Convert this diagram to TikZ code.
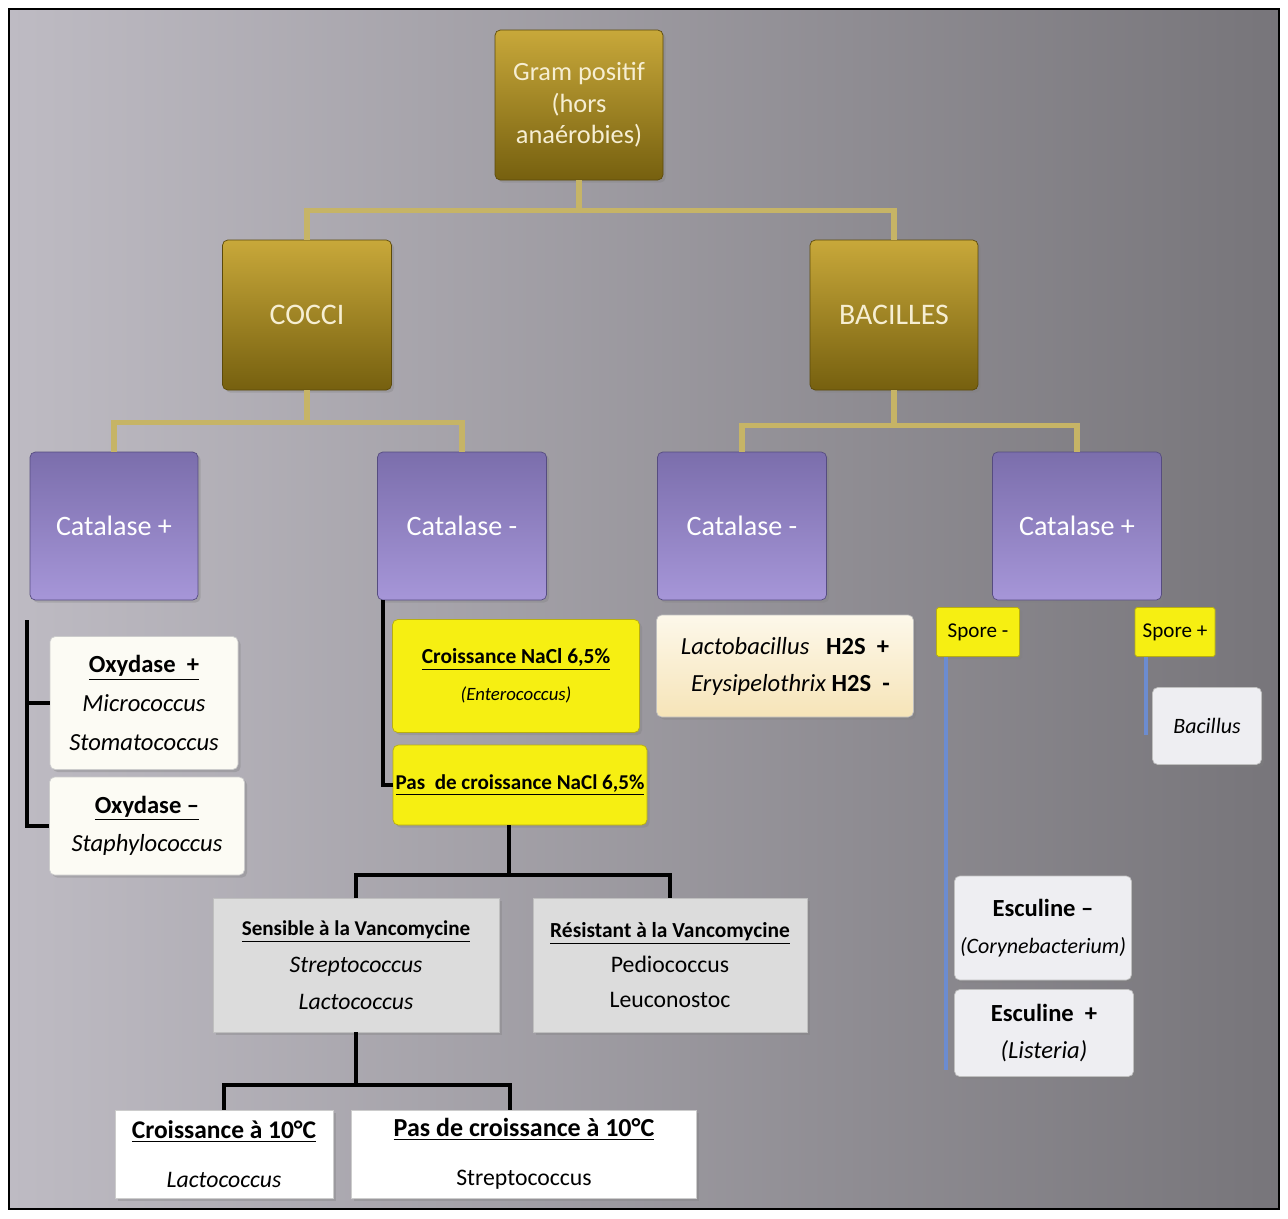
\documentclass[tikz,border=0pt]{standalone}
\usepackage{fontspec}
\setmainfont{Carlito}
\usetikzlibrary{shadows}
\definecolor{GoldTop}{HTML}{C8A83A}
\definecolor{GoldBot}{HTML}{76600F}
\definecolor{GoldEdge}{HTML}{5C4A0A}
\definecolor{GoldLine}{HTML}{C6B466}
\definecolor{GoldText}{HTML}{F6EED2}
\definecolor{LilacTop}{HTML}{7B6EAC}
\definecolor{LilacBot}{HTML}{A696D8}
\definecolor{LilacEdge}{HTML}{564C80}
\definecolor{SunYellow}{HTML}{F6EF12}
\definecolor{SunEdge}{HTML}{B8AE10}
\definecolor{Cream}{HTML}{FCFBF4}
\definecolor{CreamTop}{HTML}{FDF8EA}
\definecolor{CreamBot}{HTML}{F6E4B8}
\definecolor{PaleGrey}{HTML}{DCDCDC}
\definecolor{IceGrey}{HTML}{EEEEF2}
\definecolor{SkyLine}{HTML}{6C8CD0}
\definecolor{BackLeft}{HTML}{BEBBC3}
\definecolor{BackRight}{HTML}{77757A}
\tikzset{
  sized/.style 2 args={
    minimum width=#1*0.02cm,
    minimum height=#2*0.02cm,
  },
  box/.style={
    rounded corners=3pt,
    inner sep=1pt,
    align=center,
    drop shadow={opacity=0.35, shadow xshift=1.5pt, shadow yshift=-1.5pt},
  },
  gold box/.style={
    box,
    draw=GoldEdge,
    top color=GoldTop,
    bottom color=GoldBot,
    text=GoldText,
  },
  lilac box/.style={
    box,
    draw=LilacEdge,
    top color=LilacTop,
    bottom color=LilacBot,
    text=white,
    font=\fontsize{16}{19}\selectfont,
  },
  white box/.style={
    box,
    draw=white!80!black,
    fill=Cream,
  },
  sun box/.style={
    box,
    draw=SunEdge,
    fill=SunYellow,
  },
  grey box/.style={
    box,
    rounded corners=0pt,
    draw=white!75!black,
    fill=PaleGrey,
  },
  ice box/.style={
    box,
    draw=white!75!black,
    fill=IceGrey,
  },
  cream box/.style={
    box,
    draw=white!75!black,
    top color=CreamTop,
    bottom color=CreamBot,
  },
  gold link/.style={
    draw=GoldLine,
    line width=3pt,
  },
  black link/.style={
    draw=black,
    line width=2.2pt,
  },
  sky link/.style={
    draw=SkyLine,
    line width=2.2pt,
  },
}
\newcommand{\hd}[1]{\underline{\textbf{#1}}}

\begin{document}
\begin{tikzpicture}[x=0.02cm, y=-0.02cm]
  \useasboundingbox (0,0) rectangle (1288,1218);
  % background and frame
  \shade[left color=BackLeft, right color=BackRight] (9,9) rectangle (1279,1209);
  \draw[line width=1.4pt] (9,9) rectangle (1279,1209);

  % top levels
  \node[gold box, sized={168}{150}, font=\fontsize{15}{18}\selectfont] (root) at (579,105)
    {Gram positif\\(hors\\anaérobies)};
  \node[gold box, sized={169}{150}, font=\fontsize{17}{20}\selectfont] (cocci) at (307,315) {COCCI};
  \node[gold box, sized={168}{150}, font=\fontsize{17}{20}\selectfont] (bacil) at (894,315) {BACILLES};
  \draw[gold link] (root.south) -- ++(0,30) -| (cocci.north);
  \draw[gold link] (root.south) -- ++(0,30) -| (bacil.north);

  % catalase
  \node[lilac box, sized={168}{148}] (catpc) at (114,526) {Catalase +};
  \node[lilac box, sized={169}{148}] (catmc) at (462,526) {Catalase -};
  \node[lilac box, sized={169}{148}] (catmb) at (742,526) {Catalase -};
  \node[lilac box, sized={169}{148}] (catpb) at (1077,526) {Catalase +};
  \draw[gold link] (cocci.south) -- ++(0,32) -| (catpc.north);
  \draw[gold link] (cocci.south) -- ++(0,32) -| (catmc.north);
  \draw[gold link] (bacil.south) -- ++(0,35) -| (catmb.north);
  \draw[gold link] (bacil.south) -- ++(0,35) -| (catpb.north);

  % cocci catalase +
  \node[white box, sized={188}{133}, font=\fontsize{14}{22}\selectfont] (oxp) at (144,703)
    {\hd{Oxydase\ \ +}\\\textit{Micrococcus}\\\textit{Stomatococcus}};
  \node[white box, sized={195}{98}, font=\fontsize{14}{22}\selectfont] (oxm) at (147,826)
    {\hd{Oxydase –}\\\textit{Staphylococcus}};
  \coordinate (brtop) at (27,620);
  \draw[black link] (brtop) |- (oxm.west);
  \draw[black link] (oxp.west) -- (oxp.west -| brtop);

  % cocci catalase -
  \node[sun box, sized={247}{113}, font=\fontsize{12.2}{21}\selectfont] (nacl) at (516,676)
    {\hd{Croissance NaCl 6,5\%}\\{\fontsize{10.7}{12}\selectfont\textit{(Enterococcus)}}};
  \node[sun box, sized={254}{80}, font=\fontsize{12}{14}\selectfont] (nonacl) at (520,785)
    {\hd{Pas\ \ de croissance NaCl 6,5\%}};
  \draw[black link] ([xshift=6*0.02cm]catmc.south west) |- (nonacl.west);

  \node[grey box, sized={286}{134}, font=\fontsize{13.5}{21}\selectfont] (sens) at (356,965)
    {{\fontsize{12}{14}\selectfont\hd{Sensible à la Vancomycine}}\\\textit{Streptococcus}\\\textit{Lactococcus}};
  \node[grey box, sized={274}{134}, font=\fontsize{13.5}{20}\selectfont] (resi) at (670,965)
    {{\fontsize{12.2}{14}\selectfont\hd{Résistant à la Vancomycine}}\\Pediococcus\\Leuconostoc};
  \coordinate (split1) at (509,875);
  \draw[black link] (nonacl.south -| split1) -- (split1) -| (sens.north);
  \draw[black link] (split1) -| (resi.north);

  \node[white box, rounded corners=0pt, fill=white, sized={218}{88}, font=\fontsize{14.5}{28}\selectfont] (grow) at (224,1154)
    {\hd{Croissance à 10°C}\\{\fontsize{13.5}{16}\selectfont\textit{Lactococcus}}};
  \node[white box, rounded corners=0pt, fill=white, sized={345}{88}, font=\fontsize{14.8}{28}\selectfont] (nogrow) at (524,1154)
    {\hd{Pas de croissance à 10°C}\\{\fontsize{13.5}{16}\selectfont Streptococcus}};
  \coordinate (split2) at (356,1085);
  \draw[black link] (sens.south) -- (split2) -| (grow.north);
  \draw[black link] (split2) -| ([xshift=-14*0.02cm]nogrow.north);

  % bacilles catalase -
  \node[cream box, sized={257}{102}, font=\fontsize{14}{21}\selectfont] (hs) at (785,666)
    {\textit{Lactobacillus}\ \ \ \textbf{H2S}\ \ \textbf{+}\\\ \ \textit{Erysipelothrix} \textbf{H2S}\ \ \textbf{-}};

  % bacilles catalase +
  \node[sun box, rounded corners=1pt, sized={83}{49}, font=\fontsize{12}{14}\selectfont] (spm) at (978,632) {Spore -};
  \node[sun box, rounded corners=1pt, sized={80}{49}, font=\fontsize{12}{14}\selectfont] (spp) at (1175,632) {Spore +};
  \coordinate (spmend) at (946,1070);
  \coordinate (sppend) at (1146,735);
  \draw[sky link] (spm.south -| spmend) -- (spmend);
  \draw[sky link] (spp.south -| sppend) -- (sppend);
  \node[ice box, sized={109}{77}, font=\fontsize{12.5}{15}\selectfont] (bac) at (1207,726) {\textit{Bacillus}};
  \node[ice box, sized={177}{104}, font=\fontsize{14}{21}\selectfont] (escm) at (1043,928)
    {\textbf{Esculine –}\\{\fontsize{12.5}{15}\selectfont\textit{(Corynebacterium)}}};
  \node[ice box, sized={179}{87}, font=\fontsize{14}{21}\selectfont] (escp) at (1044,1033)
    {\textbf{Esculine\ \ +}\\\textit{(Listeria)}};
\end{tikzpicture}
\end{document}
